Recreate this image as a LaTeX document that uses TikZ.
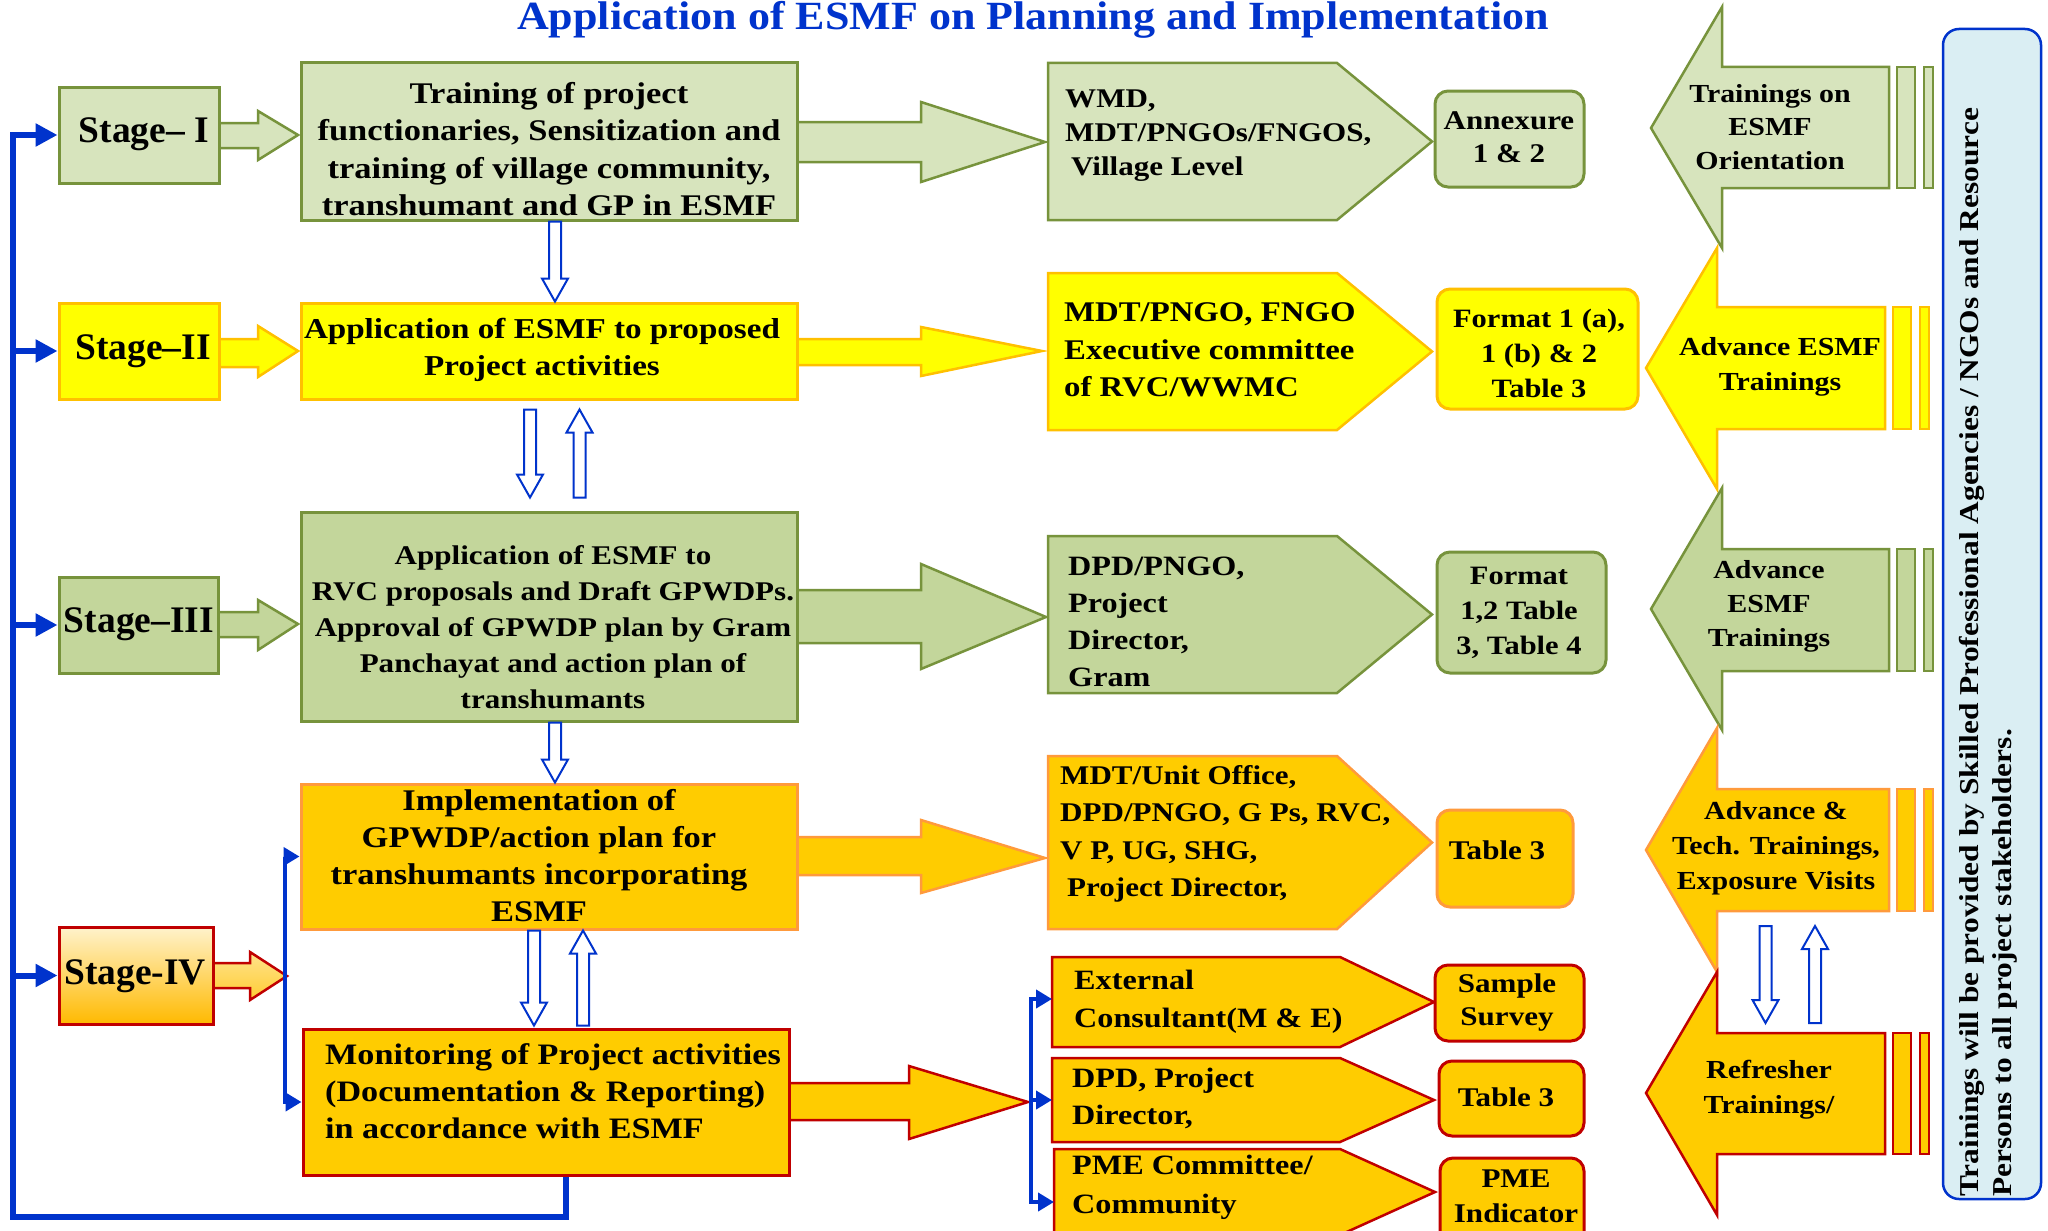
\documentclass[tikz,border=0pt]{standalone}
\usepackage{fontspec}
\setmainfont{Liberation Serif}
\newfontfamily\camb{Liberation Serif}[FakeStretch=1.15]
\newfontfamily\ttlfont{Liberation Serif}[FakeStretch=1.1]
\usetikzlibrary{calc,arrows.meta}

\definecolor{gA}{HTML}{D7E4BD}
\definecolor{gB}{HTML}{C3D69B}
\definecolor{olv}{HTML}{77933C}
\definecolor{yel}{HTML}{FFFF00}
\definecolor{gold}{HTML}{FFC000}
\definecolor{org}{HTML}{FFCC00}
\definecolor{orgb}{HTML}{FF9A3C}
\definecolor{redb}{HTML}{C00000}
\definecolor{myblue}{HTML}{0033CC}
\definecolor{panel}{HTML}{DAEEF3}

\newcommand\fs[2]{\fontsize{#1}{#2}\selectfont}

% right-pointing block arrow: x0, shaft top, shaft bottom, head x, head top, head bottom, tip x, tip y, style
\newcommand\rblock[9]{%
  \path[#9] (#1,#2) -- (#4,#2) -- (#4,#5) -- (#7,#8) -- (#4,#6) -- (#4,#3) -- (#1,#3) -- cycle;}
% left-pointing striped block arrow: tip x, tip y, head x, head top, head bottom, shaft top, shaft bottom, right x, style
\newcommand\lblock[9]{%
  \path[#9] (#8,#6) -- (#3,#6) -- (#3,#4) -- (#1,#2) -- (#3,#5) -- (#3,#7) -- (#8,#7) -- cycle;
  \path[#9] (#8+8,#6) rectangle (#8+26,#7);
  \path[#9] (#8+35,#6) rectangle (#8+44,#7);}
% pentagon (chevron) box: left x, top y, bottom y, start of point, tip x, style
\newcommand\pent[6]{%
  \path[#6] (#1,#2) -- (#4,#2) -- (#5,{(#2+#3)/2}) -- (#4,#3) -- (#1,#3) -- cycle;}
% hollow arrows between two points (x taken from the first point)
\newcommand\hollowdown[2]{%
  \draw[hollow] let \p1=#1, \p2=#2 in
    (\x1-6pt,\y1) -- (\x1+6pt,\y1) -- (\x1+6pt,\y2+23pt) -- (\x1+13pt,\y2+23pt)
    -- (\x1,\y2) -- (\x1-13pt,\y2+23pt) -- (\x1-6pt,\y2+23pt) -- cycle;}
\newcommand\hollowup[2]{%
  \draw[hollow] let \p1=#1, \p2=#2 in
    (\x1-6pt,\y1) -- (\x1+6pt,\y1) -- (\x1+6pt,\y2-23pt) -- (\x1+13pt,\y2-23pt)
    -- (\x1,\y2) -- (\x1-13pt,\y2-23pt) -- (\x1-6pt,\y2-23pt) -- cycle;}

\tikzset{
  bt/.tip={Triangle[length=16pt,width=18pt]},
  tt/.tip={Triangle[length=22pt,width=22pt]},
  shp/.style={line width=2.5pt, line join=miter},
  bx/.style={draw, line width=3pt, inner sep=0pt},
  rbx/.style={draw, line width=3pt, inner sep=0pt, rounded corners=13pt},
  lbl/.style={font=\camb\bfseries, align=center, inner sep=0pt},
  lbll/.style={font=\camb\bfseries, align=left, inner sep=0pt},
  stg/.style={font=\bfseries\fs{37.5}{40}, inner sep=0pt},
  hollow/.style={draw=myblue, fill=white, line width=2pt, line join=miter},
  trunk/.style={draw=myblue, line width=6pt, arrows={-tt}},
  branch/.style={draw=myblue, line width=4pt},
}

\begin{document}
\begin{tikzpicture}[x=1pt,y=-1pt]
\useasboundingbox (0,0) rectangle (2048,1231);
\clip (0,0) rectangle (2048,1231);
\fill[white] (0,0) rectangle (2048,1231);

% title
\node[font=\ttlfont\bfseries\fs{40}{44}, text=myblue, inner sep=0pt] (title) at (1033,20)
  {Application of ESMF on Planning and Implementation};

% ---------- block arrows behind the boxes ----------
% stage arrows
\rblock{219}{123}{148}{258}{111}{160}{298}{135}{shp, fill=gA, draw=olv}
\rblock{219}{339}{367}{258}{326}{377}{298}{351}{shp, fill=yel, draw=gold}
\rblock{218}{612}{637}{258}{600}{650}{298}{624}{shp, fill=gB, draw=olv}
\rblock{213}{963}{988}{250}{952}{1000}{287}{976}{shp, draw=redb, top color=white!55!gold, bottom color=white!20!gold}
% activity arrows
\rblock{797}{122}{162}{921}{102}{182}{1045}{142}{shp, fill=gA, draw=olv}
\rblock{797}{339}{365}{921}{327}{376}{1042}{351}{shp, fill=yel, draw=gold}
\rblock{797}{590}{643}{921}{564}{669}{1046}{617}{shp, fill=gB, draw=olv}
\rblock{797}{837}{875}{921}{820}{893}{1045}{858}{shp, fill=org, draw=orgb}
\rblock{789}{1083}{1120}{909}{1066}{1139}{1028}{1102}{shp, fill=org, draw=redb}

% ---------- responsibility chevrons ----------
\pent{1048}{63}{220}{1337}{1432}{shp, fill=gA, draw=olv}
\pent{1048}{273}{430}{1337}{1432}{shp, fill=yel, draw=gold}
\pent{1048}{536}{693}{1337}{1432}{shp, fill=gB, draw=olv}
\pent{1048}{756}{929}{1337}{1432}{shp, fill=org, draw=orgb}
\pent{1052}{957}{1047}{1340}{1434}{shp, fill=org, draw=redb}
\pent{1052}{1058}{1142}{1340}{1434}{shp, fill=org, draw=redb}
\pent{1054}{1149}{1235}{1340}{1435}{shp, fill=org, draw=redb}

% ---------- training arrows (right column) ----------
\lblock{1651}{128}{1722}{7}{248}{67}{188}{1889}{shp, fill=gA, draw=olv}
\lblock{1646}{368}{1717}{248}{489}{307}{429}{1885}{shp, fill=yel, draw=gold}
\lblock{1651}{609}{1722}{488}{730}{549}{671}{1889}{shp, fill=gB, draw=olv}
\lblock{1646}{850}{1717}{728}{972}{789}{911}{1889}{shp, fill=org, draw=orgb}
\lblock{1646}{1093}{1717}{972}{1215}{1033}{1154}{1885}{shp, fill=org, draw=redb}

% ---------- side panel ----------
\node[draw=myblue, fill=panel, line width=2.5pt, rounded corners=16pt, inner sep=0pt,
      minimum width=98, minimum height=1170] (panel) at (1992,614) {};
\node[lbll, font=\camb\bfseries\fs{27.3}{33}, rotate=90, anchor=north west] (note) at (1959,1197)
  {Trainings will be provided by Skilled Professional Agencies / NGOs and Resource\\
   Persons to all project stakeholders.};

% ---------- stage boxes ----------
\node[bx, draw=olv, fill=gA, minimum width=160, minimum height=96] (s1) at (139,135) {};
\node[bx, draw=gold, fill=yel, minimum width=160, minimum height=96] (s2) at (139,351) {};
\node[bx, draw=olv, fill=gB, minimum width=159, minimum height=96] (s3) at (138.5,625) {};
\node[bx, draw=redb, top color=white!80!gold, bottom color=gold!90!orange, minimum width=154, minimum height=97] (s4) at (136,975.5) {};
\node[stg] (s1t) at (144,134) {Stage– I};
\node[stg] (s2t) at (143,351) {Stage–II};
\node[stg] (s3t) at (139,624) {Stage–III};
\node[stg] (s4t) at (135,976) {Stage-IV};

% ---------- activity boxes ----------
\node[bx, draw=olv, fill=gA, minimum width=496, minimum height=157] (b1) at (549,141.5) {};
\node[bx, draw=gold, fill=yel, minimum width=496, minimum height=96] (b2) at (549,351) {};
\node[bx, draw=olv, fill=gB, minimum width=496, minimum height=209] (b3) at (549,616.5) {};
\node[bx, draw=orgb, fill=org, minimum width=496, minimum height=145] (b4) at (549,856.5) {};
\node[bx, draw=redb, fill=org, minimum width=486, minimum height=146] (b5) at (546,1102) {};

\node[lbl, font=\camb\bfseries\fs{30}{37.5}] (b1t) at (549,149)
  {Training of project\\functionaries, Sensitization and\\training of village community,\\transhumant and GP in ESMF};
\node[lbl, font=\camb\bfseries\fs{28.8}{37}] (b2t) at (542,350)
  {Application of ESMF to proposed\\Project activities};
\node[lbl, font=\camb\bfseries\fs{27}{36}] (b3t) at (553,627)
  {Application of ESMF to\\RVC proposals and Draft GPWDPs.\\Approval of GPWDP plan by Gram\\Panchayat and action plan of\\transhumants};
\node[lbl, font=\camb\bfseries\fs{30}{37}] (b4t) at (539,856)
  {Implementation of\\GPWDP/action plan for\\transhumants incorporating\\ESMF};
\node[lbll, font=\camb\bfseries\fs{29.7}{37}, anchor=west] (b5t) at (325,1091)
  {Monitoring of Project activities\\(Documentation \& Reporting)\\in accordance with ESMF};

% ---------- chevron texts ----------
\node[lbll, font=\camb\bfseries\fs{27}{34}, anchor=west] (p1t) at (1065,136)
  {WMD,\\MDT/PNGOs/FNGOS,\\\hspace*{6pt}Village Level};
\node[lbll, font=\camb\bfseries\fs{28.5}{37.5}, anchor=west] (p2t) at (1064,350)
  {MDT/PNGO, FNGO\\Executive committee\\of RVC/WWMC};
\node[lbll, font=\camb\bfseries\fs{28}{37}, anchor=west] (p3t) at (1068,622)
  {DPD/PNGO,\\Project\\Director,\\Gram};
\node[lbll, font=\camb\bfseries\fs{27}{37.5}, anchor=west] (p4t) at (1060,834)
  {MDT/Unit Office,\\DPD/PNGO, G Ps, RVC,\\V P, UG, SHG,\\\hspace*{7pt}Project Director,};
\node[lbll, font=\camb\bfseries\fs{28}{38}, anchor=west] (p5at) at (1074,1002)
  {External\\Consultant(M \& E)};
\node[lbll, font=\camb\bfseries\fs{28}{37}, anchor=west] (p5bt) at (1072,1098)
  {DPD, Project\\Director,};
\node[lbll, font=\camb\bfseries\fs{28}{39}, anchor=west] (p5ct) at (1072,1187)
  {PME Committee/\\Community};
\coordinate (p5aW) at (1052,999);
\coordinate (p5bW) at (1052,1100);
\coordinate (p5cW) at (1054,1202);

% ---------- document boxes ----------
\node[rbx, draw=olv, fill=gA, minimum width=149, minimum height=96] (d1) at (1509.5,139) {};
\node[rbx, draw=gold, fill=yel, minimum width=201, minimum height=120] (d2) at (1537.5,349) {};
\node[rbx, draw=olv, fill=gB, minimum width=169, minimum height=121] (d3) at (1521.5,612.5) {};
\node[rbx, draw=orgb, fill=org, minimum width=136, minimum height=97] (d4) at (1505,858.5) {};
\node[rbx, draw=redb, fill=org, minimum width=149, minimum height=76] (d5a) at (1509.5,1003) {};
\node[rbx, draw=redb, fill=org, minimum width=145, minimum height=75] (d5b) at (1511.5,1098.5) {};
\node[rbx, draw=redb, fill=org, minimum width=144, minimum height=100] (d5c) at (1512,1208) {};
\node[lbl, font=\camb\bfseries\fs{27}{33}] (d1t) at (1509,137) {Annexure\\1 \& 2};
\node[lbl, font=\camb\bfseries\fs{26.5}{35}] (d2t) at (1539,353) {Format 1 (a),\\1 (b) \& 2\\Table 3};
\node[lbl, font=\camb\bfseries\fs{26.5}{35}] (d3t) at (1519,613) {Format\\1,2 Table\\3, Table 4};
\node[lbl, font=\camb\bfseries\fs{27}{35}] (d4t) at (1497,850) {Table 3};
\node[lbl, font=\camb\bfseries\fs{27}{33}] (d5at) at (1507,1003) {Sample\\Survey};
\node[lbl, font=\camb\bfseries\fs{27}{35}] (d5bt) at (1506,1097) {Table 3};
\node[lbl, font=\camb\bfseries\fs{27}{35}] (d5ct) at (1516,1196) {PME\\Indicator};

% ---------- training texts ----------
\node[lbl, font=\camb\bfseries\fs{26}{33.5}] (a1t) at (1770,127) {Trainings on\\ESMF\\Orientation};
\node[lbl, font=\camb\bfseries\fs{26}{35}] (a2t) at (1780,367) {Advance ESMF\\Trainings};
\node[lbl, font=\camb\bfseries\fs{26}{34}] (a3t) at (1769,606) {Advance\\ESMF\\Trainings};
\node[lbl, font=\camb\bfseries\fs{26}{35}] (a4t) at (1776,848) {Advance \&\\Tech. Trainings,\\Exposure Visits};
\node[lbl, font=\camb\bfseries\fs{26}{35}] (a5t) at (1769,1090) {Refresher\\Trainings/};

% ---------- hollow flow arrows ----------
\hollowdown{($(b1.south)+(6,0)$)}{($(b2.north)+(6,0)$)}
\hollowdown{($(b2.south)+(-19,9)$)}{($(b3.north)+(-19,-13)$)}
\hollowup{($(b3.north)+(30.5,-13)$)}{($(b2.south)+(30.5,9)$)}
\hollowdown{($(b3.south)+(6,0)$)}{($(b4.north)+(6,0)$)}
\hollowdown{($(b4.south)+(-15,0)$)}{($(b5.north)+(-12,-2)$)}
\hollowup{($(b5.north)+(37,-2)$)}{($(b4.south)+(34,0)$)}
\coordinate (rtA) at (1765.5,926);
\coordinate (rtB) at (1765.5,1023);
\coordinate (rtC) at (1815,1023);
\coordinate (rtD) at (1815,926);
\hollowdown{(rtA)}{(rtB)}
\hollowup{(rtC)}{(rtD)}

% ---------- feedback loop and stage links ----------
\coordinate (tbot) at (13,1217);
\draw[trunk] ($(b5.south)+(20,0)$) |- (tbot) |- (s1.west);
\draw[trunk] (tbot |- s2.west) -- (s2.west);
\draw[trunk] (tbot |- s3.west) -- (s3.west);
\draw[trunk] (tbot |- s4.west) -- (s4.west);

% stage IV splits to implementation and monitoring
\coordinate (j4) at (285,976);
\draw[branch, arrows={bt-bt}] (b4.west) -| (j4) |- (b5.west);
% monitoring feeds three reviewers
\coordinate (j5) at (1031,1100);
\draw[branch, arrows={bt-bt}] (p5aW) -| (j5) |- (p5cW);
\draw[branch, arrows={-bt}] (j5) -- (p5bW);

\end{tikzpicture}
\end{document}
